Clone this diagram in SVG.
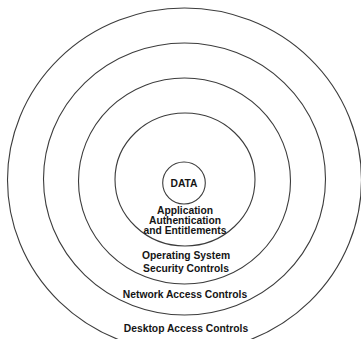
<svg xmlns="http://www.w3.org/2000/svg" width="361" height="339" viewBox="0 0 361 339">
  <style>
    .ring { fill: none; stroke: #3c3c3c; stroke-width: 1.1; }
    .lbl { font-family: "Liberation Sans", Arial, sans-serif; font-weight: bold; font-size: 10.3px; fill: #151515; text-anchor: middle; }
  </style>
  <rect width="361" height="339" fill="#ffffff"/>
  <g id="desktop">
    <ellipse class="ring" cx="184.5" cy="180" rx="177" ry="172"/>
    <text class="lbl" x="186" y="331.5">Desktop Access Controls</text>
  </g>
  <g id="network">
    <ellipse class="ring" cx="184.5" cy="179" rx="141" ry="136"/>
    <text class="lbl" x="185" y="297.5">Network Access Controls</text>
  </g>
  <g id="os">
    <ellipse class="ring" cx="184.5" cy="181" rx="106" ry="103"/>
    <text class="lbl" x="186" y="259">Operating System</text>
    <text class="lbl" x="186" y="272">Security Controls</text>
  </g>
  <g id="application">
    <ellipse class="ring" cx="185" cy="179.5" rx="70" ry="66.5"/>
    <text class="lbl" x="185" y="213.5">Application</text>
    <text class="lbl" x="185" y="223.5">Authentication</text>
    <text class="lbl" x="185" y="233.5">and Entitlements</text>
  </g>
  <g id="data">
    <ellipse class="ring" cx="184" cy="183" rx="21.3" ry="21"/>
    <text class="lbl" x="184" y="186.8">DATA</text>
  </g>
  <g id="connectors"/>
</svg>
